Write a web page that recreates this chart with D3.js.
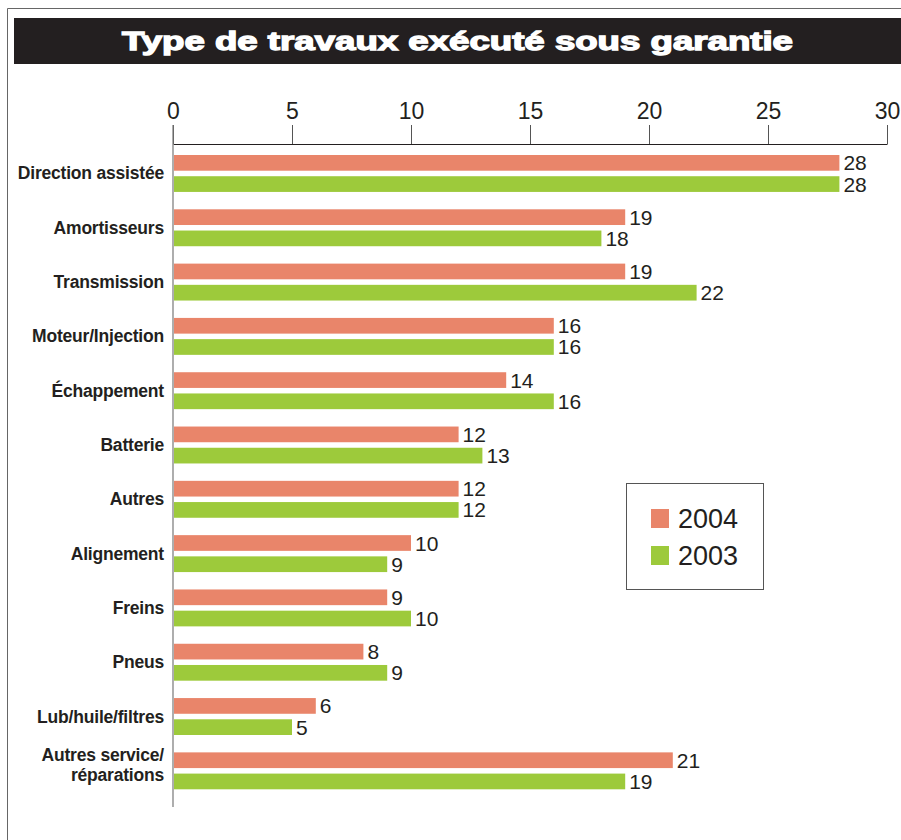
<!DOCTYPE html>
<html>
<head>
<meta charset="utf-8">
<script src="https://cdn.jsdelivr.net/npm/d3@7"></script>
<style>
  body { margin: 0; background: #fff; }
  svg { display: block; }
</style>
</head>
<body>
<div id="chart"></div>
<script>
const categories = [
  'Direction assistée', 'Amortisseurs', 'Transmission', 'Moteur/Injection',
  'Échappement', 'Batterie', 'Autres', 'Alignement', 'Freins', 'Pneus',
  'Lub/huile/filtres', 'Autres service/\nréparations'
]
const values2004 = [28, 19, 19, 16, 14, 12, 12, 10, 9, 8, 6, 21]
const values2003 = [28, 18, 22, 16, 16, 13, 12, 9, 10, 9, 5, 19]
const series = ['2004', '2003']
const colors = ['#e9856a', '#9dca3b']
const ticks = [0, 5, 10, 15, 20, 25, 30]

const width = 901
const height = 840
const ink = '#231f20'

const svg = d3.select('#chart').append('svg')
  .attr('width', width)
  .attr('height', height)

// frame (top and left edges only)
svg.append('path')
  .attr('d', `M7.5,${height} L7.5,8.5 L${width},8.5`)
  .attr('fill', 'none')
  .attr('stroke', '#666')
  .attr('stroke-width', 1)

// title bar
svg.append('rect')
  .attr('x', 14).attr('y', 18)
  .attr('width', width - 14).attr('height', 46)
  .attr('fill', ink)

svg.append('text')
  .attr('x', 122).attr('y', 50)
  .attr('textLength', 671)
  .attr('lengthAdjust', 'spacingAndGlyphs')
  .style('font-family', 'Liberation Sans, Arial, sans-serif')
  .style('font-weight', 'bold')
  .style('font-size', '25px')
  .attr('fill', '#fff')
  .attr('stroke', '#fff')
  .attr('stroke-width', 1.3)
  .text('Type de travaux exécuté sous garantie')

const x = d3.scaleLinear().domain([0, 30]).range([173, 887])
const y = d3.scaleBand().domain(categories).range([155, 789.3])
  .paddingInner(0.32).paddingOuter(0)
const ys = d3.scaleBand().domain(series).range([0, y.bandwidth()])
  .paddingInner(0.26)

// top axis
const axis = svg.append('g')
  .attr('transform', 'translate(0,144)')
  .call(d3.axisTop(x).tickValues(ticks).tickSize(19).tickPadding(6).tickSizeOuter(0))
axis.select('.domain').attr('stroke', ink)
axis.selectAll('.tick line').attr('stroke', '#555')
axis.selectAll('.tick text')
  .attr('fill', ink)
  .style('font-family', 'Liberation Sans Narrow, Arial Narrow, sans-serif')
  .style('font-size', '23px')

// vertical baseline
svg.append('line')
  .attr('x1', x(0)).attr('x2', x(0))
  .attr('y1', 125).attr('y2', 807)
  .attr('stroke', '#777')
  .attr('stroke-width', 1.2)

const rows = categories.map((c, i) => ({ cat: c, vals: [values2004[i], values2003[i]] }))

const group = svg.selectAll('g.row').data(rows).enter()
  .append('g')
  .classed('row', true)
  .attr('transform', d => `translate(0,${y(d.cat)})`)

const bars = group.selectAll('g.bar')
  .data(d => d.vals.map((v, j) => ({ v, s: series[j], c: colors[j] })))
  .enter().append('g').classed('bar', true)

bars.append('rect')
  .attr('x', x(0) + 1)
  .attr('y', d => ys(d.s))
  .attr('width', d => x(d.v) - x(0) - 1)
  .attr('height', ys.bandwidth())
  .attr('fill', d => d.c)

bars.append('text')
  .attr('x', d => x(d.v) + 4)
  .attr('y', d => ys(d.s) + ys.bandwidth() / 2 + 7.5)
  .attr('fill', ink)
  .style('font-family', 'Liberation Sans Narrow, Arial Narrow, sans-serif')
  .style('font-size', '21px')
  .text(d => d.v)

// category labels
const labels = group.append('text')
  .attr('text-anchor', 'end')
  .attr('fill', ink)
  .style('font-family', 'Liberation Sans, Arial, sans-serif')
  .style('font-weight', 'bold')
  .style('font-size', '17.5px')
  .style('letter-spacing', '-0.2px')

labels.each(function (d) {
  const lines = d.cat.split('\n')
  const t = d3.select(this)
  const mid = y.bandwidth() / 2
  lines.forEach((ln, k) => {
    t.append('tspan')
      .attr('x', 164)
      .attr('y', mid + 6 + (k - (lines.length - 1) / 2) * 20 - (lines.length > 1 ? 6 : 0))
      .text(ln)
  })
})

// legend
const legend = svg.append('g').attr('transform', 'translate(626,483)')
legend.append('rect')
  .attr('x', 0.5).attr('y', 0.5)
  .attr('width', 137).attr('height', 106)
  .attr('fill', '#fff')
  .attr('stroke', '#555')

const item = legend.selectAll('g.item').data(series).enter()
  .append('g')
  .classed('item', true)
  .attr('transform', (d, i) => `translate(25,${26 + i * 37})`)

item.append('rect')
  .attr('width', 18).attr('height', 19)
  .attr('fill', (d, i) => colors[i])

item.append('text')
  .attr('x', 27).attr('y', 19)
  .attr('fill', ink)
  .style('font-family', 'Liberation Sans, Arial, sans-serif')
  .style('font-size', '27px')
  .text(d => d)
</script>
</body>
</html>
